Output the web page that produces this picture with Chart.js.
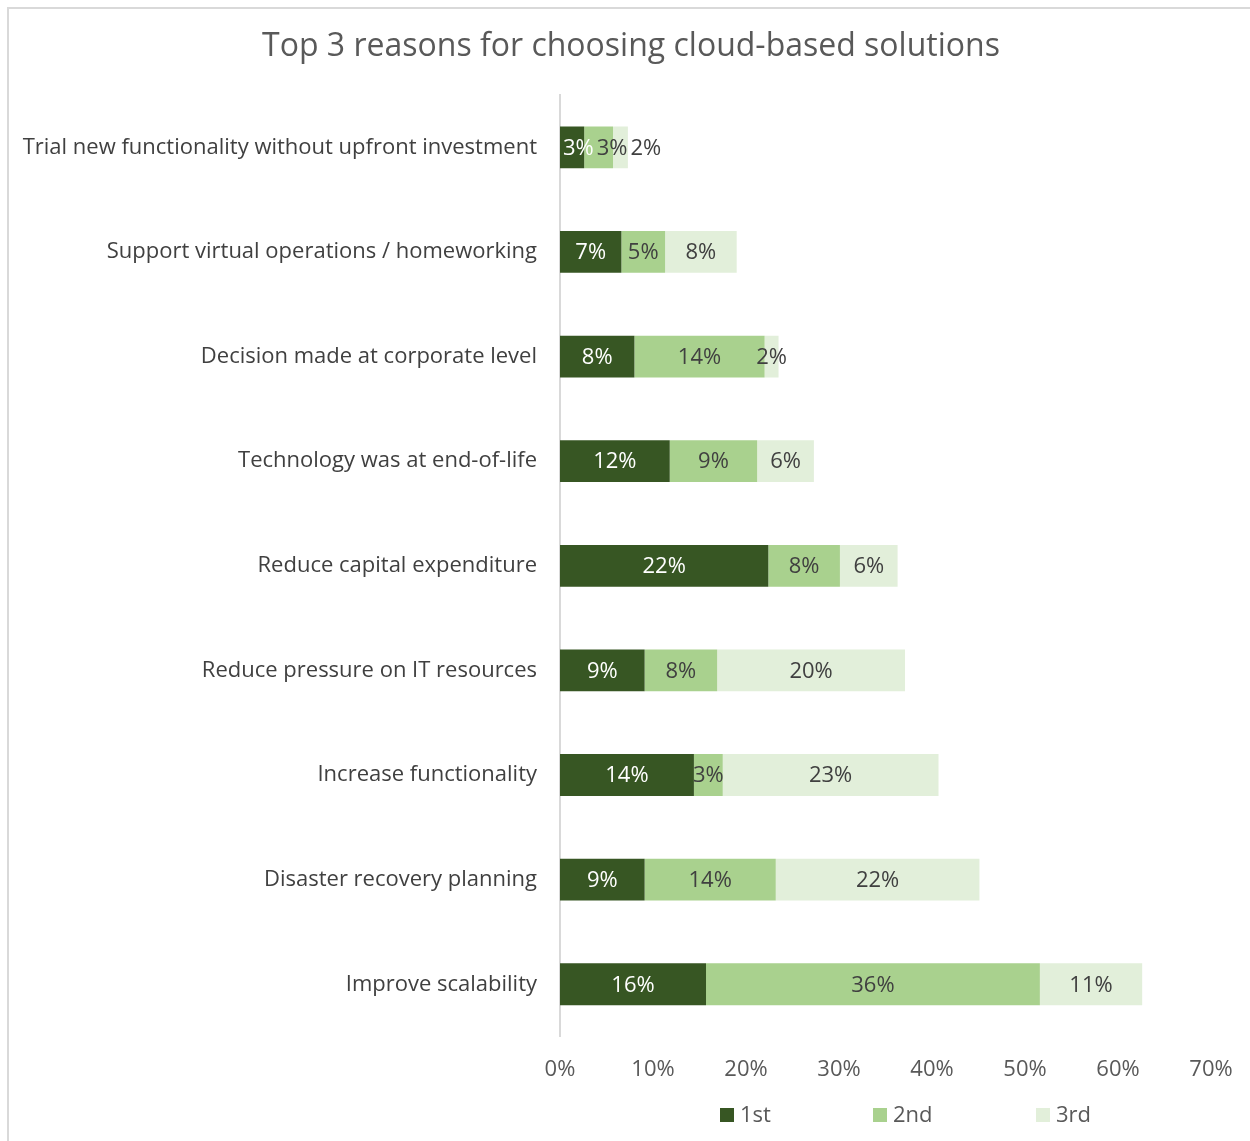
<!DOCTYPE html>
<html>
<head>
<meta charset="utf-8">
<script src="https://cdn.jsdelivr.net/npm/chart.js@4.4.0/dist/chart.umd.min.js"></script>
<style>
  html, body { margin: 0; padding: 0; background: #fff; }
  #wrap { position: relative; width: 1250px; height: 1141px; }
  #frame { position: absolute; left: 7px; top: 7px; width: 1260px; height: 1160px;
           border-top: 2px solid #d9d9d9; border-left: 2px solid #d9d9d9; box-sizing: border-box; pointer-events: none; }
  canvas { position: absolute; left: 0; top: 0; }
</style>
</head>
<body>
<div id="wrap">
  <canvas id="c" width="1250" height="1141"></canvas>
  <div id="frame"></div>
</div>
<script>
const titleText = "Top 3 reasons for choosing cloud-based solutions";
const categories = [
  "Trial new functionality without upfront investment",
  "Support virtual operations / homeworking",
  "Decision made at corporate level",
  "Technology was at end-of-life",
  "Reduce capital expenditure",
  "Reduce pressure on IT resources",
  "Increase functionality",
  "Disaster recovery planning",
  "Improve scalability"
];
const seriesNames = ["1st", "2nd", "3rd"];
const first  = [2.6, 6.6, 8.0, 11.8, 22.4, 9.1, 14.4, 9.1, 15.7];
const second = [3.1, 4.7, 14.0, 9.4, 7.7, 7.8, 3.1, 14.1, 35.9];
const third  = [1.6, 7.7, 1.5, 6.1, 6.2, 20.2, 23.2, 21.9, 11.0];
const xTicks = [0, 10, 20, 30, 40, 50, 60, 70];
const colors = ["#375623", "#A9D18E", "#E2EFDA"];
const labelColors = ["#ffffff", "#404040", "#404040"];
const FONT = "'Open Sans', 'Liberation Sans', sans-serif";

const barLabels = {
  id: 'barLabels',
  afterDatasetsDraw(chart) {
    const ctx = chart.ctx;
    ctx.save();
    ctx.font = "22px " + FONT;
    ctx.textAlign = 'left';
    ctx.textBaseline = 'middle';
    const n = chart.data.labels.length;
    for (let i = 0; i < n; i++) {
      let prevRight = -Infinity;
      chart.data.datasets.forEach((ds, di) => {
        const bar = chart.getDatasetMeta(di).data[i];
        const txt = Math.round(ds.data[i]) + '%';
        const w = ctx.measureText(txt).width;
        const cx = (bar.x + bar.base) / 2;
        let left = cx - w / 2;
        if (di === 0) left = Math.max(left, bar.base + 3);
        left = Math.max(left, prevRight + 3);
        ctx.fillStyle = labelColors[di];
        ctx.fillText(txt, left, bar.y + 1);
        prevRight = left + w;
      });
    }
    ctx.restore();
  }
};

const titleAndLegend = {
  id: 'titleAndLegend',
  afterDraw(chart) {
    const ctx = chart.ctx;
    ctx.save();
    ctx.font = "32px " + FONT;
    ctx.fillStyle = '#595959';
    ctx.textAlign = 'center';
    ctx.textBaseline = 'middle';
    ctx.fillText(titleText, 631, 47);

    const xs = [720, 873, 1036];
    const y = 1115;
    ctx.font = "22px " + FONT;
    ctx.textAlign = 'left';
    chart.data.datasets.forEach((ds, di) => {
      ctx.fillStyle = ds.backgroundColor;
      ctx.fillRect(xs[di], y - 7, 14, 14);
      ctx.fillStyle = '#595959';
      ctx.fillText(ds.label, xs[di] + 20, y + 1);
    });
    ctx.restore();
  }
};

new Chart(document.getElementById('c'), {
  type: 'bar',
  data: {
    labels: categories,
    datasets: [
      { label: seriesNames[0], data: first,  backgroundColor: colors[0] },
      { label: seriesNames[1], data: second, backgroundColor: colors[1] },
      { label: seriesNames[2], data: third,  backgroundColor: colors[2] }
    ]
  },
  options: {
    indexAxis: 'y',
    responsive: false,
    animation: false,
    devicePixelRatio: 1,
    datasets: { bar: { categoryPercentage: 1.0, barPercentage: 0.4 } },
    layout: { padding: { left: 0, right: 39, top: 95, bottom: 38 } },
    plugins: {
      legend: { display: false },
      tooltip: { enabled: false },
      title: { display: false }
    },
    scales: {
      x: {
        stacked: true,
        min: 0, max: 70,
        afterBuildTicks(scale) { scale.ticks = xTicks.map(v => ({ value: v })); },
        afterFit(scale) { scale.paddingRight = 0; scale.paddingLeft = 0; },
        grid: { display: false, drawTicks: false },
        border: { display: false },
        ticks: {
          color: '#595959',
          font: { family: FONT, size: 22 },
          padding: 20,
          maxRotation: 0,
          callback: v => v + '%'
        }
      },
      y: {
        stacked: true,
        afterFit(scale) { scale.width = 560; },
        grid: { display: false, drawTicks: false },
        border: { display: true, color: '#d9d9d9', width: 2 },
        ticks: {
          color: '#404040',
          font: { family: FONT, size: 22 },
          padding: 23
        }
      }
    }
  },
  plugins: [barLabels, titleAndLegend]
});
</script>
</body>
</html>
